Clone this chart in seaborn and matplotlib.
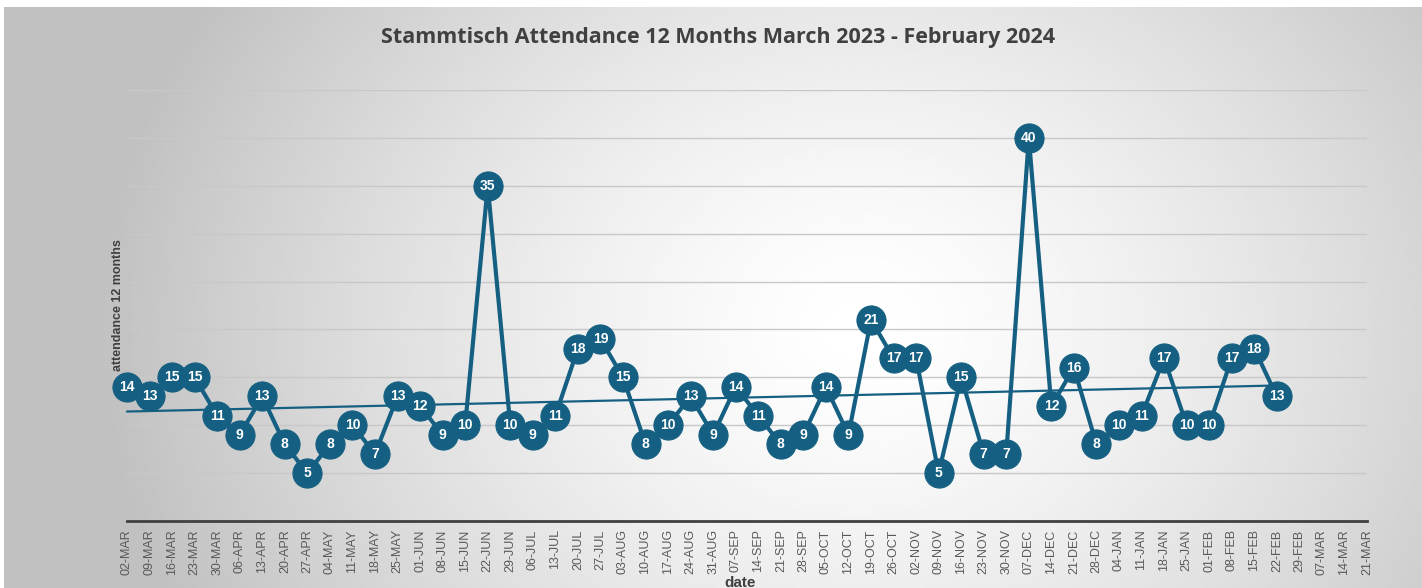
import numpy as np
import pandas as pd
import matplotlib
matplotlib.use("Agg")
import matplotlib.pyplot as plt
import seaborn as sns

# weekly labels shown on the x axis (02-MAR-2023 .. 21-MAR-2024)
week_labels = [
    "02-MAR", "09-MAR", "16-MAR", "23-MAR", "30-MAR",
    "06-APR", "13-APR", "20-APR", "27-APR",
    "04-MAY", "11-MAY", "18-MAY", "25-MAY",
    "01-JUN", "08-JUN", "15-JUN", "22-JUN", "29-JUN",
    "06-JUL", "13-JUL", "20-JUL", "27-JUL",
    "03-AUG", "10-AUG", "17-AUG", "24-AUG", "31-AUG",
    "07-SEP", "14-SEP", "21-SEP", "28-SEP",
    "05-OCT", "12-OCT", "19-OCT", "26-OCT",
    "02-NOV", "09-NOV", "16-NOV", "23-NOV", "30-NOV",
    "07-DEC", "14-DEC", "21-DEC", "28-DEC",
    "04-JAN", "11-JAN", "18-JAN", "25-JAN",
    "01-FEB", "08-FEB", "15-FEB", "22-FEB", "29-FEB",
    "07-MAR", "14-MAR", "21-MAR",
]

# attendance per Stammtisch, 02-MAR .. 22-FEB
attendance = [
    14, 13, 15, 15, 11,
    9, 13, 8, 5,
    8, 10, 7, 13,
    12, 9, 10, 35, 10,
    9, 11, 18, 19,
    15, 8, 10, 13, 9,
    14, 11, 8, 9,
    14, 9, 21, 17,
    17, 5, 15, 7, 7,
    40, 12, 16, 8,
    10, 11, 17, 10,
    10, 17, 18, 13,
]

title = "Stammtisch Attendance 12 Months March 2023 - February 2024"
y_title = "attendance 12 months"
x_title = "date"

BLUE = "#156082"
W, H = 1422, 588

sns.set_style("white")
plt.rcParams["font.family"] = ["Liberation Sans", "DejaVu Sans"]

df = pd.DataFrame({"week": week_labels[:len(attendance)], "attendance": attendance})
df["pos"] = range(len(df))

fig = plt.figure(figsize=(W / 100, H / 100), dpi=100)
fig.patch.set_facecolor("white")

# radial grey-white background like the Excel chart area
bg = fig.add_axes([4 / W, 0, 1 - 4 / W, 1 - 7 / H], zorder=-10)
gx, gy = np.meshgrid(np.linspace(4, W, 400), np.linspace(7, H, 200))
r = np.sqrt(((gx - 860) / 760) ** 2 + ((gy - 330) / 640) ** 2)
shade = 255 - 62 * np.clip(r, 0, 1) ** 1.4
bg.imshow(shade, cmap="gray", vmin=0, vmax=255, aspect="auto",
          extent=[0, 1, 0, 1], interpolation="bilinear")
bg.set_axis_off()

ax = fig.add_axes([127 / W, 1 - 521 / H, (1367 - 127) / W, (521 - 90) / H])
ax.set_facecolor("none")

sns.lineplot(data=df, x="pos", y="attendance", ax=ax, color=BLUE,
             linewidth=3, marker="o", markersize=21,
             markeredgecolor=BLUE, markerfacecolor=BLUE, zorder=3)
sns.regplot(data=df, x="pos", y="attendance", ax=ax, scatter=False, ci=None,
            truncate=True, line_kws={"color": BLUE, "linewidth": 1.6, "zorder": 2})
for ln in ax.lines:
    ln.set_clip_on(False)

for p, v in zip(df["pos"], df["attendance"]):
    ax.text(p, v, str(v), color="white", fontsize=10, fontweight="bold",
            ha="center", va="center", zorder=4)

ax.set_xlim(0, len(week_labels) - 1)
ax.set_ylim(0, 45)
ax.set_xticks(range(len(week_labels)))
ax.set_xticklabels(week_labels, rotation=90, fontsize=9, color="#595959")
ax.set_yticks(range(5, 46, 5))
ax.set_yticklabels([])
ax.tick_params(axis="both", length=0)
ax.tick_params(axis="x", pad=6)
ax.grid(axis="y", color="#c8c8c8", linewidth=1)
ax.set_xlabel("")
ax.set_ylabel("")
for s in ["top", "right", "left"]:
    ax.spines[s].set_visible(False)
ax.spines["bottom"].set_color("#404040")
ax.spines["bottom"].set_linewidth(2)

fig.text(718 / W, 1 - 38 / H, title, ha="center", va="center", fontsize=15.5,
         fontweight="bold", color="#404040", family=["Open Sans", "DejaVu Sans"])
fig.text(118 / W, 1 - 305 / H, y_title, rotation=90, ha="center", va="center",
         fontsize=9, fontweight="bold", color="#404040")
fig.text(740 / W, 1 - 583 / H, x_title, ha="center", va="center",
         fontsize=11, fontweight="bold", color="#404040")

fig.savefig("out.png", dpi=100)
